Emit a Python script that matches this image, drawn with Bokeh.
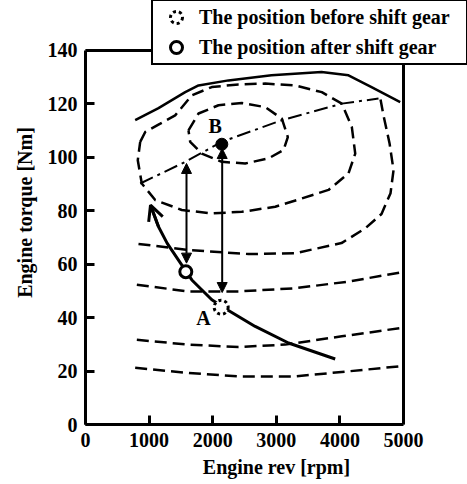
from bokeh.plotting import figure
from bokeh.models import Range1d, FixedTicker, Arrow, NormalHead, OpenHead, Legend, LegendItem, Label
from bokeh.embed import file_html
from bokeh.resources import INLINE

# ---------------- data ----------------
x_ticks = [0, 1000, 2000, 3000, 4000, 5000]
y_ticks = [0, 20, 40, 60, 80, 100, 120, 140]

# maximum torque line (solid)
max_rpm = [781, 1148, 1568, 1777, 2248, 2924, 3711, 4135, 4497, 4948]
max_nm = [113.9, 118.4, 124.4, 126.9, 128.8, 130.7, 131.9, 130.7, 126.3, 120.7]

# optimal operating line (dash-dot)
opt_rpm = [860, 1568, 2143, 3087, 4030, 4607]
opt_nm = [90.2, 98.3, 105.8, 113.9, 120.1, 122.0]

# efficiency contours (dashed)
c1_rpm = [781, 1619, 2406, 3297, 4135, 4948]
c1_nm = [21.2, 19.3, 18.0, 18.0, 19.9, 21.8]

c2_rpm = [807, 1619, 2406, 3140, 4030, 4948]
c2_nm = [31.7, 29.9, 29.0, 29.9, 33.0, 36.1]

c3_rpm = [807, 1619, 2406, 3297, 4135, 4948]
c3_nm = [52.3, 49.8, 49.8, 51.0, 53.5, 56.9]

c4_rpm = [833, 1619, 2563, 3297, 4025, 4403, 4654, 4796, 4843, 4780, 4685, 4638]
c4_nm = [67.6, 65.3, 63.8, 64.1, 67.9, 73.5, 78.8, 86.6, 95.2, 105.3, 115.7, 121.7]

c5_rpm = [860, 939, 1175, 1410, 1671, 1986, 2406, 2825, 3297, 3715, 4030, 4187,
          4241, 4135, 3821, 3401, 2983, 2458, 1986, 1514, 1096, 885, 822, 860]
c5_nm = [105.8, 109.5, 112.6, 115.7, 123.2, 126.3, 127.3, 127.6, 126.9, 124.4, 120.1, 111.4,
         101.4, 94.0, 87.8, 84.6, 81.5, 79.6, 79.0, 80.3, 84.0, 90.2, 98.9, 105.8]

c6_rpm = [1619, 1777, 2091, 2458, 2825, 3087, 3181, 3113, 2877, 2511, 2143, 1829, 1646, 1619]
c6_nm = [110.1, 116.4, 119.5, 120.3, 118.8, 114.5, 107.6, 102.7, 99.6, 97.7, 98.3, 101.4, 105.8, 110.1]

# operating path (thick solid with arrow)
path_rpm = [3926, 3192, 2668, 2248, 1986, 1672, 1494, 1285, 1148, 1022]
path_nm = [24.5, 30.5, 36.7, 42.7, 46.7, 54.1, 60.4, 67.8, 74.0, 82.1]

# points
before_rpm, before_nm = [2133], [43.9]
after_rpm, after_nm = [1577], [57.2]
b_rpm, b_nm = [2143], [104.9]

# vertical double arrows: rpm, low torque, high torque
arrow_rpm = [1588, 2149]
arrow_low = [60.4, 49.4]
arrow_high = [97.7, 103.3]

point_labels = ["A", "B"]
label_rpm = [1855, 2040]
label_nm = [39.9, 111.6]

legend_labels = ["The position before shift gear", "The position after shift gear"]

FONT = "Liberation Serif"

X_MAX = x_ticks[-1]
Y_MAX = y_ticks[-1]

# ---------------- figure ----------------
# frame spans the whole area right/above the axes so that the legend box
# (which straddles the plot border) is not clipped; axes are bounded to the data box
p = figure(width=467, height=484, output_backend="svg", toolbar_location=None,
           x_range=Range1d(0, 6006), y_range=Range1d(0, 158.7),
           min_border_left=85, min_border_right=0, min_border_top=0, min_border_bottom=60)
p.grid.visible = False
p.outline_line_color = None

p.xaxis.ticker = FixedTicker(ticks=x_ticks)
p.yaxis.ticker = FixedTicker(ticks=y_ticks)
p.xaxis.bounds = (0, X_MAX)
p.yaxis.bounds = (0, Y_MAX)
p.xaxis.axis_label = "Engine rev [rpm]"
p.yaxis.axis_label = "Engine torque [Nm]"
for ax in (p.xaxis[0], p.yaxis[0]):
    ax.axis_line_width = 3
    ax.axis_line_color = "black"
    ax.major_tick_in = 9
    ax.major_tick_out = 0
    ax.major_tick_line_width = 3
    ax.minor_tick_in = 0
    ax.minor_tick_out = 0
    ax.major_label_text_font = FONT
    ax.major_label_text_font_style = "bold"
    ax.major_label_text_font_size = "20px"
    ax.major_label_text_color = "black"
    ax.axis_label_text_font = FONT
    ax.axis_label_text_font_style = "bold"
    ax.axis_label_text_font_size = "20px"
    ax.axis_label_text_color = "black"
p.xaxis.major_label_standoff = 8
p.xaxis.axis_label_standoff = 6
p.yaxis.major_label_standoff = 8
p.yaxis.axis_label_standoff = 9

# top and right border of the plot box
p.line([0, X_MAX, X_MAX], [Y_MAX, Y_MAX, 0], line_color="black", line_width=3)

# contours
for xs, ys in [(c1_rpm, c1_nm), (c2_rpm, c2_nm), (c3_rpm, c3_nm),
               (c4_rpm, c4_nm), (c5_rpm, c5_nm), (c6_rpm, c6_nm)]:
    p.line(xs, ys, line_color="black", line_width=2.5, line_dash="12 6")

p.line(max_rpm, max_nm, line_color="black", line_width=2.5)
p.line(opt_rpm, opt_nm, line_color="black", line_width=2, line_dash="14 5 3 5")

# operating path
p.line(path_rpm, path_nm, line_color="black", line_width=3)
p.add_layout(Arrow(end=OpenHead(size=15, line_width=3, line_color="black"),
                   x_start=path_rpm[-2], y_start=path_nm[-2],
                   x_end=path_rpm[-1], y_end=path_nm[-1],
                   line_width=3, line_color="black"))

# vertical double arrows
for i in range(len(arrow_rpm)):
    p.add_layout(Arrow(start=NormalHead(size=10, fill_color="black", line_color="black"),
                       end=NormalHead(size=10, fill_color="black", line_color="black"),
                       x_start=arrow_rpm[i], y_start=arrow_low[i],
                       x_end=arrow_rpm[i], y_end=arrow_high[i],
                       line_width=2, line_color="black"))

# points
r_before = p.scatter(before_rpm, before_nm, size=14, marker="circle", fill_color="white",
                     line_color="black", line_width=3, line_dash="3 3")
r_after = p.scatter(after_rpm, after_nm, size=12, marker="circle", fill_color="white",
                    line_color="black", line_width=3)
p.scatter(b_rpm, b_nm, size=12, marker="circle", fill_color="black", line_color="black")

for t, xv, yv in zip(point_labels, label_rpm, label_nm):
    p.add_layout(Label(x=xv, y=yv, text=t, text_font=FONT, text_font_style="bold",
                       text_font_size="20px", text_align="center", text_baseline="middle",
                       text_color="black"))

legend = Legend(items=[LegendItem(label=legend_labels[0], renderers=[r_before]),
                       LegendItem(label=legend_labels[1], renderers=[r_after])],
                location=(66, 359), margin=0, padding=1, spacing=0,
                glyph_width=44, glyph_height=30, label_standoff=1, label_width=266,
                label_text_font=FONT, label_text_font_style="bold", label_text_font_size="20px",
                label_text_color="black",
                border_line_color="black", border_line_width=2, border_line_alpha=1.0,
                background_fill_color="white", background_fill_alpha=1.0)
p.add_layout(legend)

open("out.html", "w").write(file_html(p, INLINE))
